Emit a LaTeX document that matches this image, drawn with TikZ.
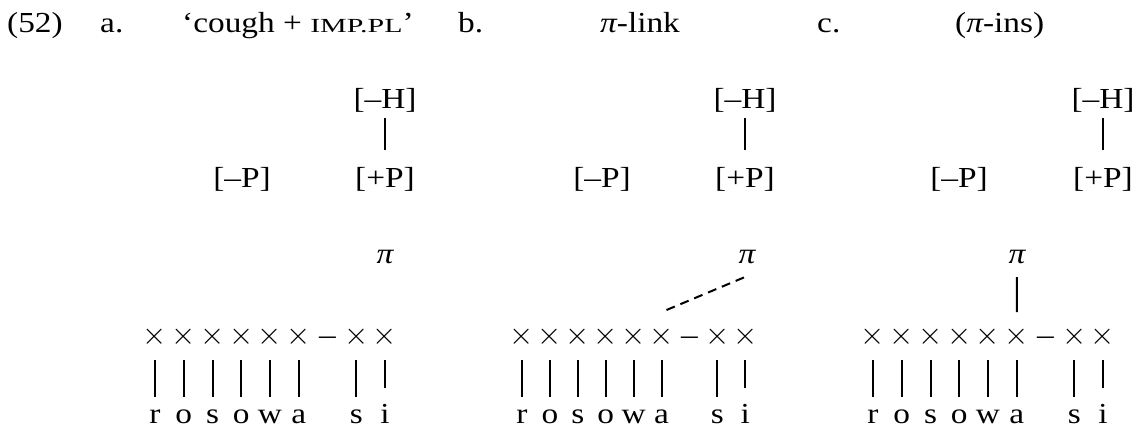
\documentclass[tikz,border=0pt]{standalone}
\usepackage{fontspec}
\usepackage{graphicx}
\setmainfont{Liberation Serif}[FakeStretch=1.15]
\begin{document}
\begin{tikzpicture}[x=1pt,y=-1pt,
  lab/.style={inner sep=0pt, anchor=base, text height=19pt, text depth=5pt, font=\fontsize{29}{32}\selectfont},
  xlab/.style={inner sep=0pt, anchor=center, font=\fontsize{28}{30}\selectfont},
  ttl/.style={inner sep=0pt, anchor=base west, font=\fontsize{29}{32}\selectfont},
  bar/.style={line width=2pt},
  dbar/.style={line width=2pt, dash pattern=on 9pt off 6pt},
]
\useasboundingbox (0,0) rectangle (1138,429);
% title row
\node[ttl] (num) at (7,32) {(52)};
\node[ttl] (la) at (100,32) {a.};
\node[ttl] (ga) at (182,32) {‘cough + \scalebox{1.3}[1]{\fontsize{20}{20}\selectfont IMP.PL}’};
\node[ttl] (lb) at (458,32) {b.};
\node[ttl] (gb) at (600,32) {{\itshape π}-link};
\node[ttl] (lc) at (817,32) {c.};
\node[ttl] (gc) at (955,32) {({\itshape π}-ins)};
% skeleta
\foreach \p/\xo/\st/\hx/\mx/\px in {a/155/28.75/385/242/385, b/522/27.9/745/602/747, c/873/28.75/1103/959/1017} {
  \foreach \i/\l/\s in {1/r/19, 2/o/19, 3/s/19, 4/o/19, 5/w/19, 6/a/19, 8/s/19, 9/i/28} {
    \node[xlab] (\p x\i) at ({\xo+(\i-1)*\st},337) {\scalebox{1.25}{$\times$}};
    \node[lab] (\p l\i) at ({\xo+(\i-1)*\st},423) {\l};
    \draw[bar, shorten <=23pt, shorten >=\s pt] (\p x\i.center) -- (\p l\i.center);
  }
  \node[lab] (\p dash) at ({\xo+6*\st},344) {–};
  \node[lab] (\p H) at (\hx,108) {[–H]};
  \node[lab] (\p P) at (\hx,187) {[+P]};
  \node[lab] (\p M) at (\mx,187) {[–P]};
  \draw[bar, shorten <=17pt, shorten >=30pt] (\p H.center) -- (\p P.center);
  \node[lab] (\p pi) at (\px,263) {{\itshape π}};
}
\draw[dbar] ([shift={(5,-27)}]bx6.center) -- ([shift={(-2,21)}]bpi.center);
\draw[bar, shorten <=21pt, shorten >=25pt] (cpi.center) -- (cx6.center);
\end{tikzpicture}
\end{document}
